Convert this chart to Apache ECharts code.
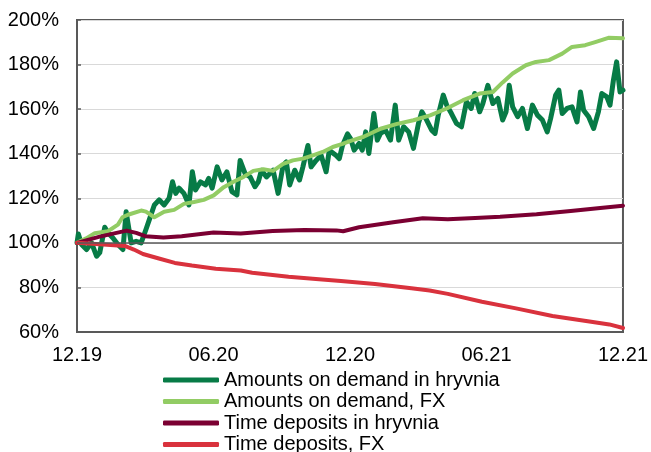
<!DOCTYPE html>
<html>
<head>
<meta charset="utf-8">
<script src="https://cdn.jsdelivr.net/npm/echarts@6/dist/echarts.min.js"></script>
<style>
  html, body { margin: 0; padding: 0; background: #fff; }
  #chart1 { width: 651px; height: 452px; }
</style>
</head>
<body>
<div id="chart1"></div>
<script>
// x values are months since 12.19
var xTicks = ['12.19', '06.20', '12.20', '06.21', '12.21'];
var seriesNames = ['Amounts on demand in hryvnia', 'Amounts on demand, FX', 'Time deposits in hryvnia', 'Time deposits, FX'];
var seriesColors = ['#077B46', '#92CC64', '#7B0032', '#D9323D'];

var demandUah = [[0,100],[0.06,104],[0.2,99.3],[0.42,97],[0.64,100],[0.86,94],[1.0,95.6],[1.22,107],[1.36,104.5],[1.58,102.2],[1.8,99.3],[2.02,97],
  [2.16,114],[2.24,108.9],[2.38,100],[2.6,100.7],[2.82,100],[3.03,106],[3.18,110.4],[3.4,117],[3.61,119.3],[3.83,117],[4.05,120],[4.2,127.4],
  [4.34,122.2],[4.49,124.5],[4.7,122.2],[4.92,117],[5.07,131.9],[5.21,123.7],[5.43,127.4],[5.65,126],[5.79,128.9],[5.94,124.5],[6.16,134.1],
  [6.37,128.2],[6.59,131.9],[6.81,123],[7.03,121.5],[7.17,137],[7.39,131.1],[7.61,129.6],[7.82,125.2],[7.97,127.4],[8.11,132.6],[8.33,129.6],
  [8.62,132.6],[8.84,122.2],[9.06,134.8],[9.2,136.3],[9.35,126],[9.57,132.6],[9.78,128.2],[9.93,134.1],[10.15,143.7],[10.29,134.1],[10.51,137],
  [10.73,139.3],[10.95,131.9],[11.09,141.5],[11.38,139.3],[11.53,137.8],[11.67,143.7],[11.89,148.9],[12.03,146.7],[12.18,141.6],[12.4,144.6],
  [12.54,141.6],[12.69,149.8],[12.83,140.1],[13.05,158],[13.2,146.1],[13.34,149.1],[13.56,150.6],[13.78,146.1],[13.99,161.8],[14.14,146.1],
  [14.36,152.1],[14.58,149.8],[14.79,142.4],[15.01,153.6],[15.16,158.8],[15.37,155.1],[15.59,150.6],[15.74,149.1],[15.88,157.3],[16.1,166.3],
  [16.25,161.8],[16.46,158],[16.68,153.6],[16.9,152.1],[17.12,163.3],[17.33,160.3],[17.48,167],[17.7,158.8],[17.84,162.5],[18.06,170.7],
  [18.28,162.5],[18.5,164.8],[18.71,155.1],[18.86,158.8],[19.0,170.7],[19.15,161],[19.37,156.6],[19.58,160.3],[19.8,151.3],[20.02,161.8],
  [20.24,157.3],[20.46,155.1],[20.67,149.8],[20.82,155.8],[21.04,166.3],[21.18,168.5],[21.33,158],[21.54,160.3],[21.76,161],[21.98,154.3],
  [22.13,167.7],[22.27,159.5],[22.49,156.6],[22.71,151.3],[22.92,158.8],[23.07,167],[23.29,165.5],[23.43,161.8],[23.58,173],[23.72,181.2],
  [23.87,167.7],[24,168.5]];

var demandFx = [[0,100],[0.4,102],[0.78,104.3],[1.36,105.2],[1.8,108.2],[2.0,111.5],[2.24,112.6],[2.82,114.5],[3.03,114],[3.4,111.5],[3.83,114],
  [4.27,114.8],[4.7,117.5],[5.14,118.3],[5.57,119.3],[6.01,121.3],[6.45,125],[6.88,127.4],[7.32,129.6],[7.75,132.3],[8.19,133],[8.62,132.3],
  [9.06,135.4],[9.49,137],[9.93,137.8],[10.37,139.3],[10.8,140.8],[11.24,143],[11.67,144.4],[12.03,145.8],[12.6,147.6],[13.34,151.2],
  [14.07,153.4],[14.79,155],[15.52,157.2],[16.25,160.3],[16.97,164],[17.7,167],[18.28,167.7],[18.71,172],[19.15,176],[19.73,179.7],
  [20.17,181.2],[20.75,182],[21.33,184.9],[21.76,187.9],[22.34,188.7],[22.78,190.1],[23.36,192],[24,191.8]];

var timeUah = [[0,100],[1.0,102.8],[2.18,105.5],[2.6,104.5],[3.0,103],[3.8,102.4],[4.6,103],[6.0,104.6],[7.2,104.2],[8.6,105.3],[10.0,105.8],
  [11.4,105.6],[11.7,105.2],[12.4,107],[13.9,109.2],[15.2,111],[16.3,110.6],[17.5,111.2],[18.6,111.7],[20.2,112.8],[21.7,114.3],[23,115.6],[24,116.7]];

var timeFx = [[0,100],[1.0,99.4],[2.1,98.6],[2.5,97],[2.9,95],[3.6,93],[4.3,91],[5.05,89.8],[6.1,88.4],[7.2,87.6],[7.7,86.6],[9.3,84.8],
  [10.5,83.8],[11.6,82.9],[13.1,81.5],[14.7,79.6],[15.5,78.6],[16.3,77.1],[17.8,73.6],[19.3,70.6],[20.9,67.2],[22.6,64.6],[23.4,63.4],[24,61.8]];

var chartDom = document.getElementById('chart1');
var myChart = echarts.init(chartDom);
var option;

function lineSeries(i, data, width) {
  return {
    name: seriesNames[i],
    type: 'line',
    data: data,
    showSymbol: false,
    smooth: false,
    animation: false,
    color: seriesColors[i],
    lineStyle: { width: width, color: seriesColors[i], cap: 'round', join: 'round' }
  };
}

var series = [
  lineSeries(0, demandUah, 5),
  lineSeries(1, demandFx, 4),
  lineSeries(2, timeUah, 4),
  lineSeries(3, timeFx, 4)
];
// dark line at 100%
series[0].markLine = {
  silent: true,
  symbol: 'none',
  label: { show: false },
  lineStyle: { color: '#595959', width: 1.5, type: 'solid' },
  data: [{ yAxis: 100 }]
};
series[0].z = 1;

var labelFont = "'Liberation Sans', Arial, sans-serif";

option = {
  animation: false,
  grid: {
    left: 77, right: 23, top: 20, bottom: 120,
    show: true,
    borderColor: '#595959',
    borderWidth: 2,
    backgroundColor: 'transparent'
  },
  legend: {
    orient: 'vertical',
    left: 163,
    top: 370,
    height: 120,
    padding: 0,
    itemWidth: 56,
    itemHeight: 5,
    itemGap: 1.5,
    icon: 'roundRect',
    textStyle: { fontSize: 20, lineHeight: 18, color: '#000', fontFamily: labelFont },
    data: seriesNames
  },
  xAxis: {
    type: 'value',
    min: 0,
    max: 24,
    interval: 6,
    axisLine: { show: true, lineStyle: { color: '#595959', width: 2 } },
    axisTick: { show: false },
    splitLine: { show: false },
    axisLabel: {
      fontSize: 20,
      color: '#000',
      fontFamily: labelFont,
      margin: 13,
      formatter: function (v) { return xTicks[Math.round(v / 6)]; }
    }
  },
  yAxis: {
    type: 'value',
    min: 60,
    max: 200,
    interval: 20,
    axisLine: { show: true, lineStyle: { color: '#595959', width: 2 } },
    axisTick: { show: true, inside: true, length: 4, lineStyle: { color: '#595959', width: 1.5 } },
    splitLine: { show: true, lineStyle: { color: '#D9D9D9', width: 1 } },
    axisLabel: {
      fontSize: 20,
      color: '#000',
      fontFamily: labelFont,
      margin: 18,
      formatter: function (v) { return v + '%'; }
    }
  },
  series: series
};

option && myChart.setOption(option);
</script>
</body>
</html>
